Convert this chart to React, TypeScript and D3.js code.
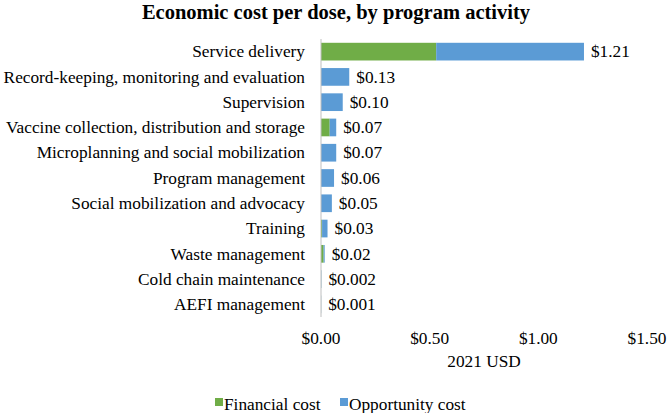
import React from "react";
import * as d3 from "d3";

const categories = [
  "Service delivery",
  "Record-keeping, monitoring and evaluation",
  "Supervision",
  "Vaccine collection, distribution and storage",
  "Microplanning and social mobilization",
  "Program management",
  "Social mobilization and advocacy",
  "Training",
  "Waste management",
  "Cold chain maintenance",
  "AEFI management",
];
const financialCost = [0.53, 0, 0, 0.04, 0, 0, 0, 0.005, 0.012, 0.0005, 0.0003];
const opportunityCost = [0.68, 0.13, 0.1, 0.03, 0.07, 0.06, 0.05, 0.025, 0.005, 0.0015, 0.0007];
const totalLabels = ["$1.21", "$0.13", "$0.10", "$0.07", "$0.07", "$0.06", "$0.05", "$0.03", "$0.02", "$0.002", "$0.001"];
const xTicks = [0, 0.5, 1.0, 1.5];
const seriesNames = ["Financial cost", "Opportunity cost"];
const colors = ["#70AD47", "#5B9BD5"];

export default function App() {
  const W = 669, H = 413;
  const x = d3.scaleLinear().domain([0, 1.5]).range([321, 647]);
  const y = d3.scaleBand().domain(categories).range([39, 317]).paddingInner(0.3).paddingOuter(0.15);
  const font = "'Liberation Serif', 'Times New Roman', serif";
  const fmt = d3.format("$.2f");
  const legendX = [215, 340];
  return (
    <svg width={W} height={H} style={{ position: "absolute", left: 0, top: 0, background: "#fff", fontFamily: font }}>
      <text x={336} y={19} textAnchor="middle" fontSize={20.5} fontWeight="bold" fill="#000">
        Economic cost per dose, by program activity
      </text>
      {categories.map((c, i) => {
        const y0 = y(c)!;
        const f = financialCost[i];
        const o = opportunityCost[i];
        return (
          <g key={c}>
            <rect x={x(0)} y={y0} width={x(f) - x(0)} height={y.bandwidth()} fill={colors[0]} />
            <rect x={x(f)} y={y0} width={x(f + o) - x(f)} height={y.bandwidth()} fill={colors[1]} />
            <text x={x(0) - 16} y={y0 + y.bandwidth() / 2} dy="0.33em" textAnchor="end" fontSize={17.3} fill="#000">
              {c}
            </text>
            <text x={x(f + o) + 7} y={y0 + y.bandwidth() / 2} dy="0.33em" fontSize={17.3} fill="#000">
              {totalLabels[i]}
            </text>
          </g>
        );
      })}
      <line x1={x(0)} x2={x(0)} y1={39} y2={317} stroke="#bfbfbf" strokeWidth={1} />
      {xTicks.map((t) => (
        <text key={t} x={x(t)} y={344} textAnchor="middle" fontSize={17.3} fill="#000">
          {fmt(t)}
        </text>
      ))}
      <text x={(x(0) + x(1.5)) / 2} y={367} textAnchor="middle" fontSize={17.3} fill="#000">
        2021 USD
      </text>
      {seriesNames.map((s, i) => {
        const lx = legendX[i];
        return (
          <g key={s}>
            <rect x={lx} y={398} width={8} height={8} fill={colors[i]} />
            <text x={lx + 9} y={410} fontSize={17.3} fill="#000">
              {s}
            </text>
          </g>
        );
      })}
    </svg>
  );
}
